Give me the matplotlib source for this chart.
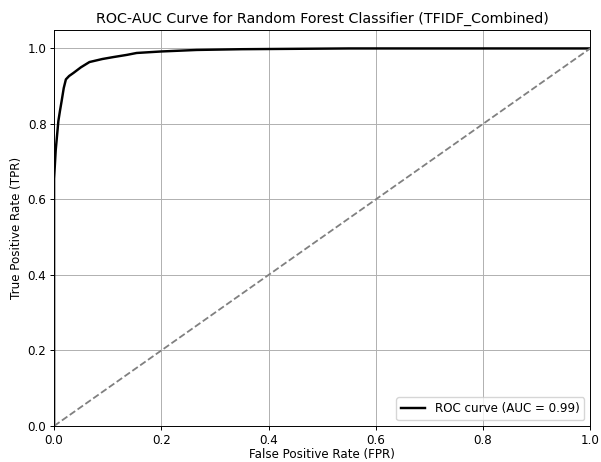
import matplotlib
matplotlib.use("Agg")
import matplotlib.pyplot as plt

fpr = [0.0, 0.0, 0.0, 0.003, 0.008, 0.011, 0.014, 0.018, 0.022, 0.028, 0.036,
       0.05, 0.066, 0.09, 0.11, 0.136, 0.154, 0.2, 0.266, 0.35, 0.45, 0.55, 0.7, 0.85, 1.0]
tpr = [0.0, 0.4, 0.655, 0.73, 0.808, 0.835, 0.86, 0.895, 0.918, 0.927, 0.935,
       0.95, 0.964, 0.972, 0.977, 0.983, 0.988, 0.992, 0.996, 0.998, 0.999, 1.0, 1.0, 1.0, 1.0]
auc_value = 0.99

fig = plt.figure(figsize=(6.01, 4.62), dpi=100)
ax = fig.add_axes([0.09, 0.078, 0.892, 0.858])
ax.plot(fpr, tpr, color="black", linewidth=1.75, label=f"ROC curve (AUC = {auc_value:.2f})")
ax.plot([0, 1], [0, 1], color="gray", linestyle="--", linewidth=1.3)
ax.set_xlim(0, 1)
ax.set_ylim(0, 1.05)
ax.set_xlabel("False Positive Rate (FPR)", fontsize=8.6, labelpad=1)
ax.set_ylabel("True Positive Rate (TPR)", fontsize=8.6, labelpad=3)
ax.set_title("ROC-AUC Curve for Random Forest Classifier (TFIDF_Combined)", fontsize=10.3, pad=5)
ax.tick_params(labelsize=8.6, width=0.7, length=3, pad=2.5)
for s in ax.spines.values():
    s.set_linewidth(0.7)
ax.grid(True, linewidth=0.7)
ax.legend(loc="lower right", fontsize=8.6)
fig.savefig("out.png", dpi=100)
